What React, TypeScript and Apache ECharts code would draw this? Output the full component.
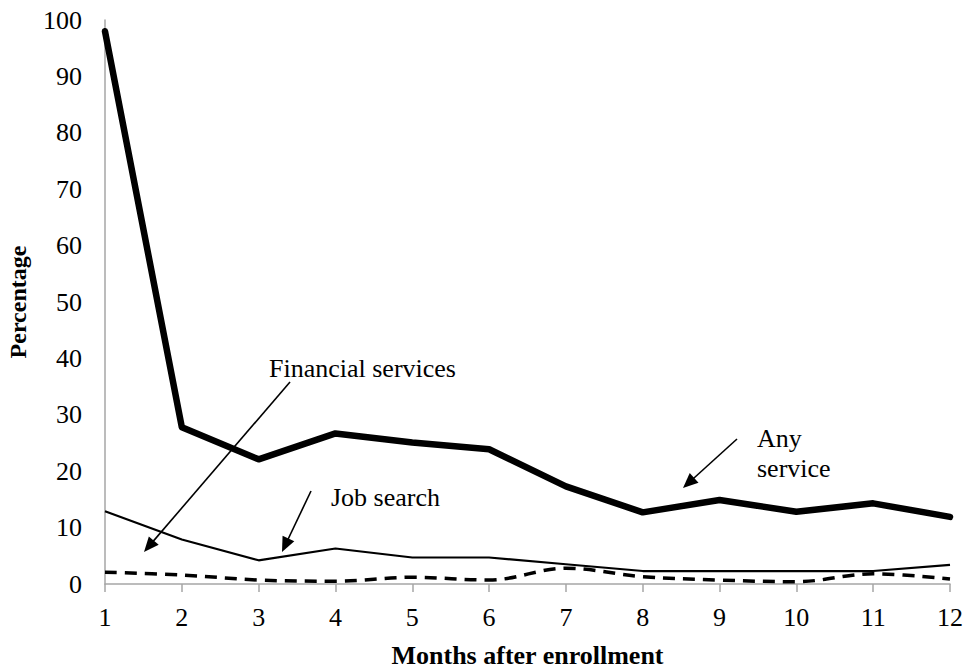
import React, { useEffect, useRef } from "react";
import * as echarts from "echarts";

const months = ["1", "2", "3", "4", "5", "6", "7", "8", "9", "10", "11", "12"];
const anyService = [98, 27.8, 22.1, 26.7, 25.1, 23.9, 17.3, 12.7, 14.9, 12.8, 14.3, 11.9];
const jobSearch = [12.9, 7.9, 4.2, 6.3, 4.7, 4.7, 3.5, 2.3, 2.3, 2.3, 2.3, 3.4];
const financialServices = [2.1, 1.6, 0.7, 0.5, 1.2, 0.7, 2.8, 1.3, 0.7, 0.4, 1.8, 0.9];
const yTicks = [0, 10, 20, 30, 40, 50, 60, 70, 80, 90, 100];

const FONT = "Liberation Serif";

function arrow(x1: number, y1: number, x2: number, y2: number, head = 15, w = 13) {
  const dx = x2 - x1;
  const dy = y2 - y1;
  const len = Math.sqrt(dx * dx + dy * dy);
  const ux = dx / len;
  const uy = dy / len;
  const bx = x2 - ux * head;
  const by = y2 - uy * head;
  const px = -uy;
  const py = ux;
  return [
    {
      type: "line",
      shape: { x1, y1, x2: bx + ux * 2, y2: by + uy * 2 },
      style: { stroke: "#000", lineWidth: 1.6 },
      silent: true,
    },
    {
      type: "polygon",
      shape: {
        points: [
          [x2, y2],
          [bx + (px * w) / 2, by + (py * w) / 2],
          [bx - (px * w) / 2, by - (py * w) / 2],
        ],
      },
      style: { fill: "#000" },
      silent: true,
    },
  ];
}

function label(text: string, x: number, y: number) {
  return {
    type: "text",
    x,
    y,
    style: {
      text,
      fill: "#000",
      fontFamily: FONT,
      fontSize: 26,
      verticalAlign: "middle",
    },
    silent: true,
  };
}

export default function App() {
  const ref = useRef<HTMLDivElement>(null);

  useEffect(() => {
    document.body.style.margin = "0";
    const chart = echarts.init(ref.current!, undefined, { renderer: "svg" });
    chart.setOption({
      animation: false,
      backgroundColor: "#fff",
      textStyle: { fontFamily: FONT },
      grid: { left: 105, right: 15, top: 20, bottom: 85, containLabel: false, outerBoundsMode: "none" },
      xAxis: {
        type: "category",
        data: months,
        boundaryGap: false,
        name: "Months after enrollment",
        nameLocation: "middle",
        nameGap: 58,
        nameTextStyle: { fontFamily: FONT, fontWeight: "bold", fontSize: 26, color: "#000" },
        axisLine: { lineStyle: { color: "#a6a6a6", width: 1.5 } },
        axisTick: { show: true, length: 8, lineStyle: { color: "#a6a6a6", width: 1.5 } },
        axisLabel: { fontFamily: FONT, fontSize: 26, color: "#000", margin: 20 },
        splitLine: { show: false },
      },
      yAxis: {
        type: "value",
        min: 0,
        max: 100,
        interval: 10,
        name: "Percentage",
        nameLocation: "middle",
        nameGap: 75,
        nameTextStyle: { fontFamily: FONT, fontWeight: "bold", fontSize: 24, color: "#000" },
        axisLine: { show: true, lineStyle: { color: "#a6a6a6", width: 1.5 } },
        axisTick: { show: false },
        axisLabel: {
          fontFamily: FONT,
          fontSize: 26,
          color: "#000",
          margin: 23,
          formatter: (v: number) => (yTicks.includes(v) ? String(v) : ""),
        },
        splitLine: { show: false },
      },
      series: [
        {
          name: "Any service",
          type: "line",
          data: anyService,
          symbol: "none",
          lineStyle: { color: "#000", width: 6.5, join: "round", cap: "round" },
        },
        {
          name: "Job search",
          type: "line",
          data: jobSearch,
          symbol: "none",
          lineStyle: { color: "#000", width: 2.2 },
        },
        {
          name: "Financial services",
          type: "line",
          data: financialServices,
          symbol: "none",
          smooth: 0.35,
          lineStyle: { color: "#000", width: 3.5, type: [12, 8] },
        },
      ],
      graphic: [
        ...arrow(290, 382, 144, 552),
        ...arrow(311, 491, 282, 552),
        ...arrow(737, 439, 683, 488),
        label("Financial services", 269, 368),
        label("Job search", 331, 497),
        label("Any", 757, 438),
        label("service", 757, 468),
      ],
    });
    return () => chart.dispose();
  }, []);

  return (
    <div
      ref={ref}
      style={{ position: "fixed", left: 0, top: 0, width: 965, height: 669, background: "#fff" }}
    />
  );
}
